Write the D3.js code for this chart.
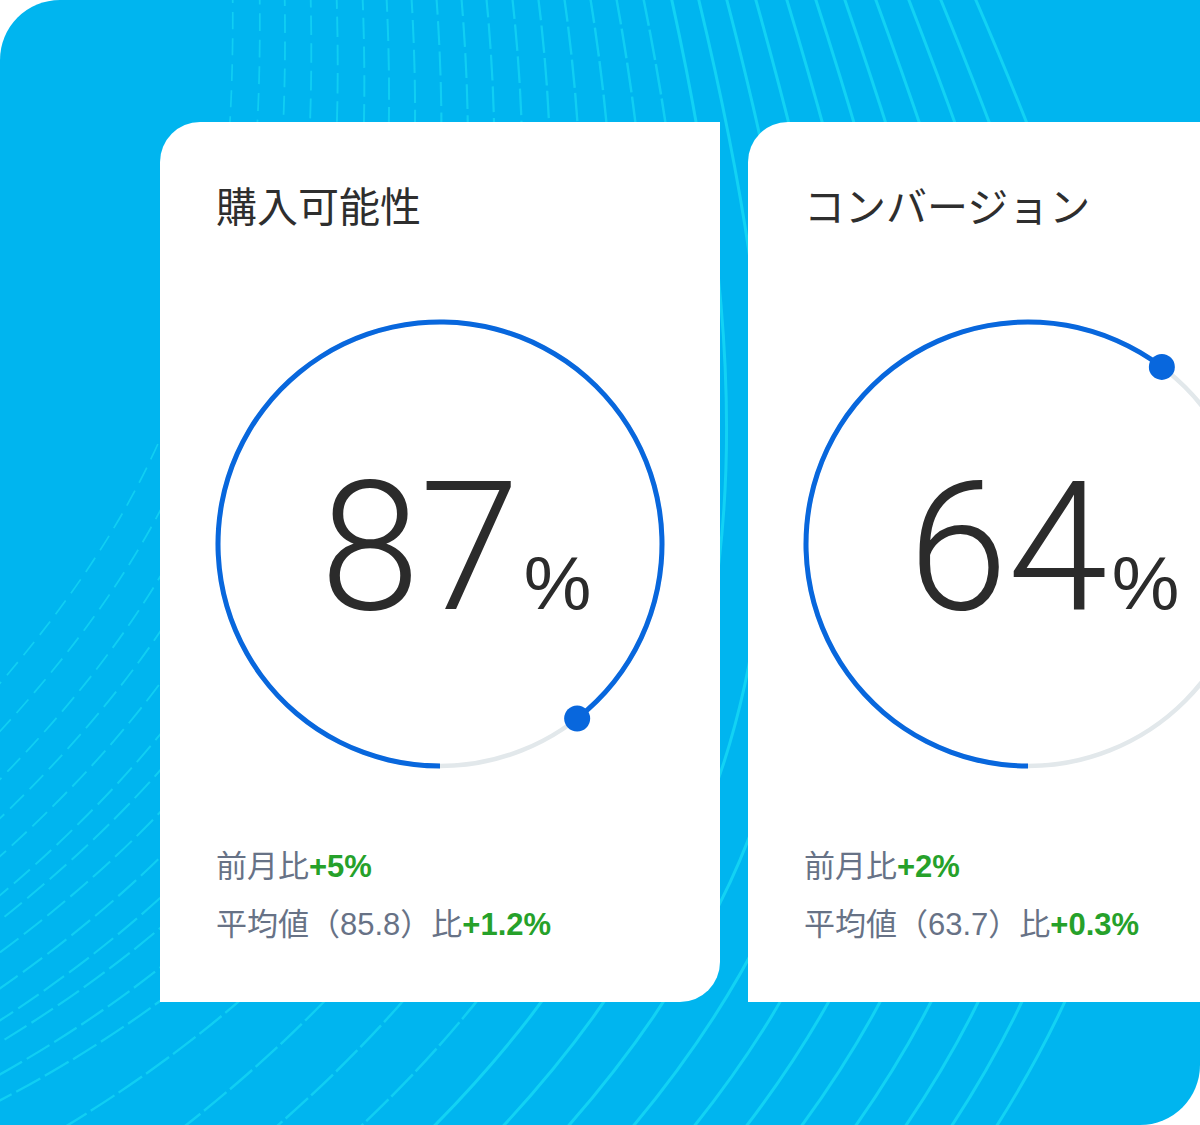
<!DOCTYPE html>
<html><head><meta charset="utf-8">
<script src="https://cdn.jsdelivr.net/npm/d3@7"></script>
<style>html,body{margin:0;padding:0;background:#fff;} svg{display:block;}</style>
</head><body>
<svg id="c" width="1200" height="1125"></svg>
<script>
// ---- chart data ----
const titles = ["購入可能性", "コンバージョン"];
const values = [87, 64];              // displayed value (%)
const arcValues = [89.4, 60.3];       // gauge fill as drawn in the picture (%)
const momLabel = "前月比";
const momChange = ["+5%", "+2%"];
const averages = ["85.8", "63.7"];
const avgChange = ["+1.2%", "+0.3%"];

// ---- decorative background curves (where they cross the visible edges) ----
const curveTopX = [233,260,285,311,337,363,387,412,437,462,487,513,539,565,591,617,644,672,699,727,756,787,816,845,876,909,941,976];
const curveExitLeftY = [684,732,780,819,857,896,921,953,989,1021,1043,1075,1101];
const curveExitBottomX = [69,187,279,363,436,505,570,635,696,748,803,857,907,953,998];

const W = 1200, H = 1125;
const svg = d3.select("#c");
const BLUE_BG = "#00b5ef";
const ACCENT = "#0867dd";

// background shape: rounded top-left and bottom-right
const R0 = 60;
const bgPath = `M0,${R0} A${R0},${R0} 0 0 1 ${R0},0 H${W} V${H-R0} A${R0},${R0} 0 0 1 ${W-R0},${H} H0 Z`;
const defs = svg.append("defs");
defs.append("clipPath").attr("id","bgclip").append("path").attr("d", bgPath);
svg.append("path").attr("d", bgPath).attr("fill", BLUE_BG);

// curves
const gCurves = svg.append("g").attr("clip-path","url(#bgclip)");
const N = curveTopX.length;
const nLeft = curveExitLeftY.length;
const rad = d => d*Math.PI/180;
for (let k = 0; k < N; k++) {
  const xt = curveTopX[k];
  const s = 0.02 + 0.42*Math.pow(k/(N-1), 1.5);
  let E, th;
  if (k < nLeft) {
    E = [0, curveExitLeftY[k]];
    th = 48 - 22*(k/(nLeft-1));
  } else {
    const j = k - nLeft;
    E = [curveExitBottomX[j], H];
    th = 30 + 26*Math.sqrt(j/(curveExitBottomX.length-1));
  }
  const tl = Math.hypot(s,1);
  const t0 = [s/tl, 1/tl];
  const t3 = [-Math.cos(rad(th)), Math.sin(rad(th))];
  const P0 = [xt - t0[0]*40, -t0[1]*40];
  const P3 = [E[0] + t3[0]*40, E[1] + t3[1]*40];
  const chord = Math.hypot(P3[0]-P0[0], P3[1]-P0[1]);
  const L = chord*0.41;
  const P1 = [P0[0]+t0[0]*L, P0[1]+t0[1]*L];
  const P2 = [P3[0]-t3[0]*L, P3[1]-t3[1]*L];
  const p = d3.path();
  p.moveTo(P0[0],P0[1]);
  p.bezierCurveTo(P1[0],P1[1],P2[0],P2[1],P3[0],P3[1]);
  const dashed = k <= 16;
  const f = Math.min(k/16,1);
  gCurves.append("path").attr("d", p.toString())
    .attr("fill","none")
    .attr("stroke","#14d5f4")
    .attr("stroke-width", dashed ? 1.7 + 0.8*f : 3)
    .attr("stroke-opacity", dashed ? 0.8 : 0.9)
    .attr("stroke-dasharray", dashed ? `${17+14*f} ${9-5*f}` : null);
}

// ---- cards ----
const cardX = [160, 748];
const cardY0 = 122, cardY1 = 1002, cardW = 560, CR = 40;
function cardPath(x0) {
  const x1 = x0 + cardW;
  return `M${x0},${cardY0+CR} A${CR},${CR} 0 0 1 ${x0+CR},${cardY0} H${x1} V${cardY1-CR} A${CR},${CR} 0 0 1 ${x1-CR},${cardY1} H${x0} Z`;
}
const gaugeR = 222, gaugeCY = 544;
const angle = d3.scaleLinear().domain([0,100]).range([Math.PI, 3*Math.PI]);
const arc = d3.arc();
const latinCJK = "'Liberation Sans', 'Noto Sans CJK JP', sans-serif";

titles.forEach((t, i) => {
  const x0 = cardX[i];
  const cx = x0 + 280;
  const g = svg.append("g");
  g.append("path").attr("d", cardPath(x0)).attr("fill","#ffffff");

  g.append("text").attr("x", x0+56).attr("y", 222)
    .attr("font-family","'Noto Sans CJK JP', sans-serif")
    .attr("font-size", 41).attr("fill","#2e2e2e").text(t);

  // track
  g.append("circle").attr("cx", cx).attr("cy", gaugeCY).attr("r", gaugeR)
    .attr("fill","none").attr("stroke","#e2e8eb").attr("stroke-width", 4.5);
  // progress
  const a1 = angle(arcValues[i]);
  g.append("path")
    .attr("transform", `translate(${cx},${gaugeCY})`)
    .attr("d", arc({innerRadius: gaugeR-2.5, outerRadius: gaugeR+2.5, startAngle: angle(0), endAngle: a1}))
    .attr("fill", ACCENT);
  g.append("circle")
    .attr("cx", cx + gaugeR*Math.sin(a1))
    .attr("cy", gaugeCY - gaugeR*Math.cos(a1))
    .attr("r", 13).attr("fill", ACCENT);

  // big number
  const num = g.append("text").attr("x", cx - 120).attr("y", 609)
    .attr("font-family","Roboto, 'Liberation Sans', sans-serif")
    .attr("font-weight", 300)
    .attr("font-size", 180).attr("fill","#2b2b2b").text(values[i]);
  const nw = num.node().getComputedTextLength();
  g.append("text").attr("x", cx - 120 + nw + 4).attr("y", 609)
    .attr("font-family","'Liberation Sans', sans-serif")
    .attr("font-size", 76).attr("fill","#2b2b2b").text("%");

  // footer lines
  const l1 = g.append("text").attr("x", x0+56).attr("y", 877)
    .attr("font-family", latinCJK).attr("font-size", 31);
  l1.append("tspan").attr("fill","#677286").text(momLabel);
  l1.append("tspan").attr("fill","#26a12a").attr("font-weight",700).text(momChange[i]);
  const l2 = g.append("text").attr("x", x0+56).attr("y", 935)
    .attr("font-family", latinCJK).attr("font-size", 31);
  l2.append("tspan").attr("fill","#677286").text(`平均値（${averages[i]}）比`);
  l2.append("tspan").attr("fill","#26a12a").attr("font-weight",700).text(avgChange[i]);
});
</script>
</body></html>
